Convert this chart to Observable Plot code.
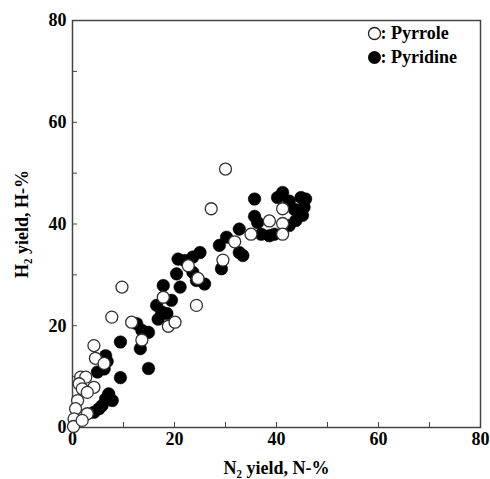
<!DOCTYPE html>
<html><head><meta charset="utf-8">
<script src="https://cdn.jsdelivr.net/npm/d3@7"></script>
<script src="https://cdn.jsdelivr.net/npm/@observablehq/plot@0.6"></script>
<style>body{margin:0;background:#fff}</style>
</head><body><div id="chart"></div>
<script>
const seriesNames = ["Pyrrole", "Pyridine"];
const pyrroleX = [30.0,27.2,9.7,7.7,11.6,13.6,4.2,4.5,6.2,1.6,2.6,1.3,1.9,4.2,2.9,1.0,0.6,2.9,0.3,0.2,1.9,17.8,18.8,20.1,22.7,24.3,24.6,29.5,31.8,35.0,38.6,41.2,41.2,41.2];
const pyrroleY = [50.8,43.0,27.6,21.7,20.7,17.2,16.1,13.6,12.6,9.9,9.9,8.6,7.6,7.9,6.9,5.3,3.7,2.7,1.7,0.2,1.4,25.6,19.9,20.7,31.8,24.0,29.3,32.9,36.5,38.0,40.6,43.0,40.1,38.0];
const pyridineX = [41.2,40.2,44.8,45.7,45.4,45.1,43.8,42.5,39.6,43.5,42.5,35.7,35.7,36.3,37.0,38.6,32.7,30.2,28.8,32.7,33.4,29.2,25.0,23.6,22.0,20.7,23.6,20.4,25.9,21.1,17.8,24.3,19.4,16.5,17.5,18.5,16.8,13.6,14.9,13.3,9.4,14.9,9.4,6.5,6.8,4.9,6.2,6.5,7.8,7.1,5.2,4.2,5.8,12.6];
const pyridineY = [46.2,45.2,45.2,44.9,43.3,41.7,40.7,39.7,38.0,42.9,44.5,44.9,41.5,40.3,38.0,37.7,39.0,37.4,35.8,34.4,33.8,31.2,34.4,33.5,32.8,33.1,30.5,30.2,28.2,27.6,27.9,28.9,25.0,24.0,22.7,22.4,21.3,19.1,18.7,15.5,16.8,11.6,9.8,14.1,13.0,10.9,11.5,5.6,5.3,6.6,3.7,3.0,4.3,20.4];
const majorTicks = [0,20,40,60,80];
const minorTicks = [10,30,50,70];

const pyrrole = pyrroleX.map((x,i)=>({x, y: pyrroleY[i]}));
const pyridine = pyridineX.map((x,i)=>({x, y: pyridineY[i]}));
const allTicks = majorTicks.concat(minorTicks);

const chart = Plot.plot({
  width: 490, height: 479,
  marginLeft: 72, marginRight: 10, marginTop: 20, marginBottom: 52,
  style: {fontFamily: "'Liberation Serif','Times New Roman',serif", fontWeight: "bold", fontSize: "18px", background: "#fff", color: "#000"},
  x: {domain: [0, 80]},
  y: {domain: [0, 80]},
  marks: [
    Plot.axisX({ticks: majorTicks, tickSize: 0, tickPadding: 5, label: "N\u2082 yield, N-%", labelArrow: "none", labelAnchor: "center", labelOffset: 46, fontSize: 18}),
    Plot.axisY({ticks: majorTicks, tickSize: 0, tickPadding: 6, label: "H\u2082 yield, H-%", labelArrow: "none", labelAnchor: "center", labelOffset: 57, fontSize: 18}),
    Plot.axisX({ticks: allTicks, tickSize: 5, dy: -5, tickFormat: () => "", label: null, stroke: "#444"}),
    Plot.axisY({ticks: allTicks, tickSize: 5, dx: 5, tickFormat: () => "", label: null, stroke: "#444"}),
    Plot.frame({stroke: "#444", strokeWidth: 1.5}),
    Plot.dot(pyridine, {x: "x", y: "y", r: 6.3, fill: "#000", stroke: "#000", strokeWidth: 0.5}),
    Plot.dot(pyrrole, {x: "x", y: "y", r: 6, fill: "#fff", stroke: "#333", strokeWidth: 1.3}),
    Plot.dot([seriesNames[0]], {frameAnchor: "top-right", dx: -106, dy: 13, r: 6, fill: "#fff", stroke: "#222", strokeWidth: 1.3}),
    Plot.dot([seriesNames[1]], {frameAnchor: "top-right", dx: -106, dy: 37, r: 6.5, fill: "#000"}),
    Plot.text([seriesNames[0]], {text: d => ": " + d, frameAnchor: "top-right", dx: -100, dy: 13, lineAnchor: "middle", textAnchor: "start", fontSize: 18, fontWeight: "bold", fill: "#000"}),
    Plot.text([seriesNames[1]], {text: d => ": " + d, frameAnchor: "top-right", dx: -100, dy: 37, lineAnchor: "middle", textAnchor: "start", fontSize: 18, fontWeight: "bold", fill: "#000"})
  ]
});
document.getElementById("chart").append(chart);
</script></body></html>
